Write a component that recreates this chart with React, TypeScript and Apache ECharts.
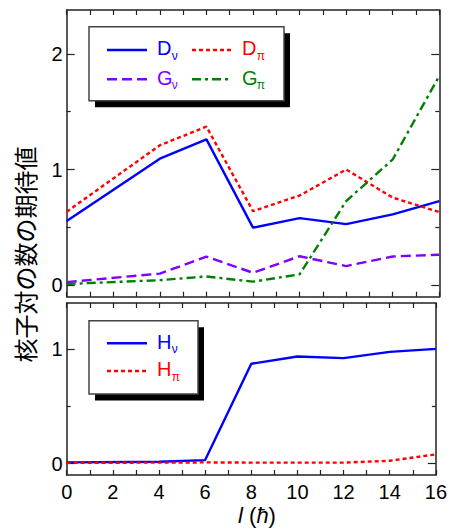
import React, { useEffect, useRef } from 'react';
import * as echarts from 'echarts';

// Angular momentum I (ħ)
const L = [0, 4, 6, 8, 10, 12, 14, 16];
// Upper panel
const D_NU = [0.554, 1.094, 1.261, 0.497, 0.58, 0.528, 0.612, 0.727];
const D_PI = [0.635, 1.21, 1.371, 0.64, 0.775, 1.0, 0.757, 0.632];
const G_NU = [0.026, 0.1, 0.246, 0.107, 0.25, 0.165, 0.248, 0.263];
const G_PI = [0.01, 0.043, 0.075, 0.03, 0.093, 0.727, 1.087, 1.81];
// Lower panel
const H_NU = [0.01, 0.015, 0.03, 0.87, 0.933, 0.919, 0.974, 1.0];
const H_PI = [0.006, 0.008, 0.01, 0.008, 0.008, 0.008, 0.024, 0.08];

const TOP_MAJOR = [0, 1, 2];
const TOP_MINOR = [0.5, 1.5];
const BOT_MAJOR = [0, 1];
const BOT_MINOR = [0.5];

const FONT = "'Liberation Sans', Arial, sans-serif";
const AX = '#222';
const BLUE = '#0000ff';
const RED = '#ff0000';
const PURPLE = '#8000ff';
const GREEN = '#008000';
const DOT = [4, 3];
const DASH = [10, 5];
const DASHDOT = [9, 4, 3, 4];
const LW = 2.4;

const pairs = (ys: number[]) => L.map((x, i) => [x, ys[i]]);

function xAx(g: number, pos: 'top' | 'bottom', labels: boolean) {
  return {
    type: 'value', gridIndex: g, position: pos, min: 0, max: 16, interval: 2,
    axisLine: { show: true, onZero: false, lineStyle: { color: AX, width: 1.5 } },
    axisTick: { show: true, inside: true, length: 5, lineStyle: { color: AX, width: 1.2 } },
    minorTick: { show: true, splitNumber: 2, length: 5, lineStyle: { color: AX, width: 1.2 } },
    axisLabel: { show: labels, color: '#000', fontSize: 20, fontFamily: FONT, margin: 7 },
    splitLine: { show: false }, minorSplitLine: { show: false },
  };
}

function yAx(g: number, pos: 'left' | 'right', max: number, vals: number[], len: number, main: boolean, labels: boolean) {
  return {
    type: 'value', gridIndex: g, position: pos, min: -0.1, max,
    axisLine: { show: main, onZero: false, lineStyle: { color: AX, width: 1.5 } },
    axisTick: { show: true, inside: true, length: len, customValues: vals, lineStyle: { color: AX, width: 1.2 } },
    axisLabel: { show: labels, customValues: vals, color: '#000', fontSize: 20, fontFamily: FONT, margin: 4 },
    splitLine: { show: false },
  };
}

function line(name: string, ys: number[], color: string, dash: any, xi: number, yi: number) {
  return {
    type: 'line', name, data: pairs(ys), xAxisIndex: xi, yAxisIndex: yi,
    showSymbol: false, symbol: 'none', clip: true,
    lineStyle: { color, width: LW, type: dash },
  };
}

function legendEntry(x0: number, y: number, color: string, dash: any, main: string, sub: string) {
  return [
    { type: 'line', shape: { x1: x0, y1: y, x2: x0 + 40, y2: y }, style: { stroke: color, lineWidth: LW, lineDash: dash === 'solid' ? null : dash }, z: 110 },
    { type: 'text', x: x0 + 50, y: y - 1.7, style: { text: main, fill: color, font: `20px ${FONT}`, verticalAlign: 'middle', align: 'left' }, z: 110 },
    { type: 'text', x: x0 + 64.8, y: y + 5.8, style: { text: sub, fill: color, font: `12px ${FONT}`, verticalAlign: 'middle', align: 'left' }, z: 110 },
  ];
}

function legendBox(x: number, y: number, w: number, h: number) {
  return [
    { type: 'rect', shape: { x: x + 6, y: y + 6.5, width: w, height: h }, style: { fill: '#000' }, z: 100 },
    { type: 'rect', shape: { x, y, width: w, height: h }, style: { fill: '#fff', stroke: '#444', lineWidth: 1.5 }, z: 101 },
  ];
}

export default function App() {
  const ref = useRef<HTMLDivElement>(null);
  useEffect(() => {
    if (!ref.current) return;
    const chart = echarts.init(ref.current, null, { renderer: 'svg' });
    const option: any = {
      animation: false,
      backgroundColor: '#fff',
      grid: [
        { left: 66.7, right: 10.7, top: 10, height: 286.7 },
        { left: 66.7, right: 10.7, top: 303, height: 172 },
      ],
      xAxis: [xAx(0, 'bottom', false), xAx(0, 'top', false), xAx(1, 'bottom', true), xAx(1, 'top', false)],
      yAxis: [
        yAx(0, 'left', 2.38, TOP_MAJOR, 8, true, true),
        yAx(0, 'left', 2.38, TOP_MINOR, 4, false, false),
        yAx(0, 'right', 2.38, TOP_MAJOR, 8, true, false),
        yAx(0, 'right', 2.38, TOP_MINOR, 4, false, false),
        yAx(1, 'left', 1.4, BOT_MAJOR, 8, true, true),
        yAx(1, 'left', 1.4, BOT_MINOR, 4, false, false),
        yAx(1, 'right', 1.4, BOT_MAJOR, 8, true, false),
        yAx(1, 'right', 1.4, BOT_MINOR, 4, false, false),
      ],
      series: [
        line('Dν', D_NU, BLUE, 'solid', 0, 0),
        line('Dπ', D_PI, RED, DOT, 0, 0),
        line('Gν', G_NU, PURPLE, DASH, 0, 0),
        line('Gπ', G_PI, GREEN, DASHDOT, 0, 0),
        line('Hν', H_NU, BLUE, 'solid', 2, 4),
        line('Hπ', H_PI, RED, DOT, 2, 4),
      ],
      graphic: [
        ...legendBox(89, 26.7, 195, 74),
        ...legendEntry(107, 50, BLUE, 'solid', 'D', 'ν'),
        ...legendEntry(192, 50, RED, DOT, 'D', 'π'),
        ...legendEntry(107, 79.3, PURPLE, DASH, 'G', 'ν'),
        ...legendEntry(192, 79.3, GREEN, DASHDOT, 'G', 'π'),
        ...legendBox(89, 320.7, 109, 73.3),
        ...legendEntry(107, 343.3, BLUE, 'solid', 'H', 'ν'),
        ...legendEntry(107, 371, RED, DOT, 'H', 'π'),
        {
          type: 'text', x: 24, y: 254.5, rotation: Math.PI / 2,
          style: { text: '核子対の数の期待値', fill: '#000', font: "24px 'Noto Sans CJK JP', sans-serif", align: 'center', verticalAlign: 'middle' },
        },
        {
          type: 'text', x: 257, y: 515.5,
          style: {
            text: '{i|l} ({i|ħ})', fill: '#000', font: `22px ${FONT}`, align: 'center', verticalAlign: 'middle',
            rich: { i: { fontStyle: 'italic', fontSize: 22, fontFamily: FONT, fill: '#000' } },
          },
        },
      ],
    };
    chart.setOption(option);
    return () => chart.dispose();
  }, []);
  return <div ref={ref} style={{ position: 'fixed', left: 0, top: 0, width: 450, height: 529, background: '#fff' }} />;
}
